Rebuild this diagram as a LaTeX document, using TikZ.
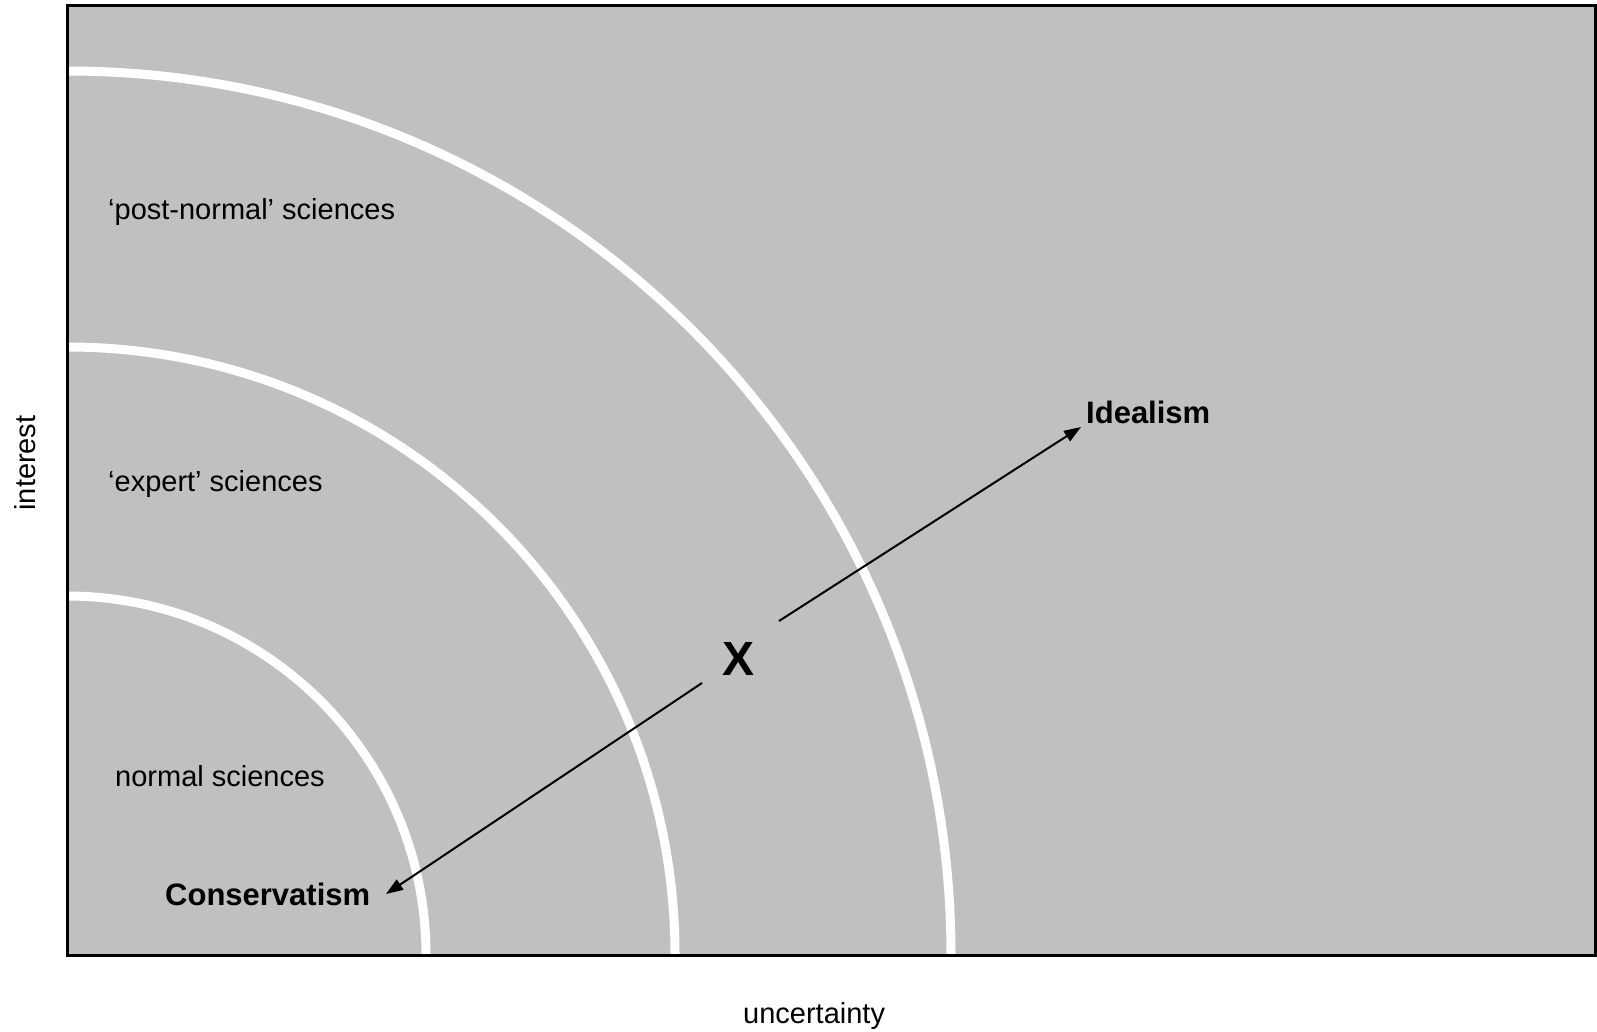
\documentclass[tikz,border=0pt]{standalone}
\usepackage{fontspec}
\setmainfont{Liberation Sans}
\usetikzlibrary{arrows.meta}
\definecolor{panel}{HTML}{C0C0C0}
\tikzset{
  lbl/.style={font=\fontsize{29}{34}\selectfont, inner sep=0pt, anchor=base west},
  blbl/.style={font=\fontsize{31}{36}\selectfont\bfseries, inner sep=0pt, anchor=base west},
  band/.style={draw=white, line width=9pt},
  pointer/.style={line width=2pt, -{Triangle[length=17pt,width=12pt]}}
}
\begin{document}
\begin{tikzpicture}[x=1pt,y=-1pt]
\useasboundingbox (0,0) rectangle (1597,1031);
\fill[panel] (67,5) rectangle (1595,955);
\begin{scope}
  \clip (67,5) rectangle (1595,955);
  \draw[band] (67,{955-884}) arc[start angle=-90,end angle=0,radius=884];
  \draw[band] (67,{955-608}) arc[start angle=-90,end angle=0,radius=608];
  \draw[band] (67,{955-359}) arc[start angle=-90,end angle=0,radius=359];
\end{scope}
\draw[line width=3pt] (67,5) rectangle (1595,955);

\node[lbl] (pn) at (108,219) {‘post-normal’ sciences};
\node[lbl] (ex) at (108,491) {‘expert’ sciences};
\node[lbl] (ns) at (115,786) {normal sciences};
\node[blbl] (cons) at (165,905) {Conservatism};
\node[blbl] (ideal) at (1086,423) {Idealism};
\node[font=\fontsize{48}{54}\selectfont\bfseries, inner sep=0pt] (X) at (738,659) {X};
\node[lbl] (unc) at (743,1023) {uncertainty};
\node[lbl, rotate=90, anchor=base] (int) at (35,463) {interest};

\coordinate (xup) at (779,621);
\coordinate (iup) at (1081,427);
\coordinate (xdn) at (702,683);
\coordinate (cdn) at (386,894);
\draw[pointer] (xup) -- (iup);
\draw[pointer] (xdn) -- (cdn);
\end{tikzpicture}
\end{document}
